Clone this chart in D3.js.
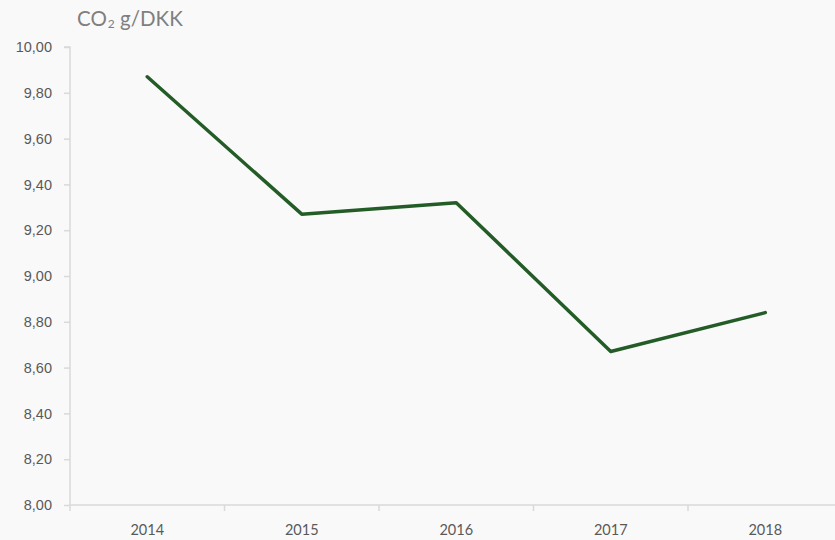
<!DOCTYPE html>
<html>
<head>
<meta charset="utf-8">
<script src="https://cdn.jsdelivr.net/npm/d3@7"></script>
<style>
  html, body { margin: 0; padding: 0; background: #f9f9f9; }
  svg { display: block; font-family: Lato, "Open Sans", sans-serif; }
</style>
</head>
<body>
<svg id="chart" width="835" height="540"></svg>
<script>
// CO2 intensity per DKK by year
const years = ["2014", "2015", "2016", "2017", "2018"];
const co2PerDkk = [9.87, 9.27, 9.32, 8.67, 8.84];
const yTicks = [8.0, 8.2, 8.4, 8.6, 8.8, 9.0, 9.2, 9.4, 9.6, 9.8, 10.0];

const svg = d3.select("#chart");
const plot = { left: 70, right: 842.5, top: 47, bottom: 505 };

const x = d3.scaleBand().domain(years).range([plot.left, plot.right]);
const y = d3.scaleLinear().domain([8, 10]).range([plot.bottom, plot.top]);

const fmt = v => v.toFixed(2).replace(".", ",");

// Y axis
const yAxis = svg.append("g")
  .attr("transform", `translate(${plot.left},0)`)
  .call(d3.axisLeft(y).tickValues(yTicks).tickFormat(fmt).tickSize(6).tickPadding(12));
yAxis.select(".domain").attr("stroke", "#d9d9d9").attr("stroke-width", 1.5)
  .attr("d", `M-6,${plot.top}H0V${plot.bottom}`);
yAxis.selectAll(".tick line").attr("stroke", "#d9d9d9").attr("stroke-width", 1.5);
yAxis.selectAll(".tick text").attr("fill", "#595959").attr("font-size", 14.5);

// X axis with boundary ticks between categories
const xAxis = svg.append("g").attr("transform", `translate(0,${plot.bottom})`);
xAxis.append("line")
  .attr("x1", plot.left).attr("x2", plot.right).attr("stroke", "#d9d9d9").attr("stroke-width", 1.5);
const bounds = years.map(d => x(d)).concat([plot.right]);
xAxis.selectAll("line.bt").data(bounds).join("line")
  .attr("class", "bt")
  .attr("x1", d => d).attr("x2", d => d).attr("y1", 0).attr("y2", 6)
  .attr("stroke", "#d9d9d9").attr("stroke-width", 1.5);
xAxis.selectAll("text").data(years).join("text")
  .attr("x", d => x(d) + x.bandwidth() / 2)
  .attr("y", 30)
  .attr("text-anchor", "middle")
  .attr("fill", "#595959")
  .attr("font-size", 14.5)
  .text(d => d);

// Axis title
const title = svg.append("text")
  .attr("x", 77).attr("y", 26)
  .attr("fill", "#7f7f7f").attr("font-size", 20.5);
title.append("tspan").text("CO");
title.append("tspan").attr("font-size", 12).attr("dy", 2).attr("dx", 1).text("2");
title.append("tspan").attr("dy", -2).text(" g/DKK");

// Data line
const line = d3.line()
  .x((d, i) => x(years[i]) + x.bandwidth() / 2)
  .y(d => y(d));
svg.append("path")
  .datum(co2PerDkk)
  .attr("d", line)
  .attr("fill", "none")
  .attr("stroke", "#235c27")
  .attr("stroke-width", 3.5)
  .attr("stroke-linecap", "round")
  .attr("stroke-linejoin", "round");
</script>
</body>
</html>
